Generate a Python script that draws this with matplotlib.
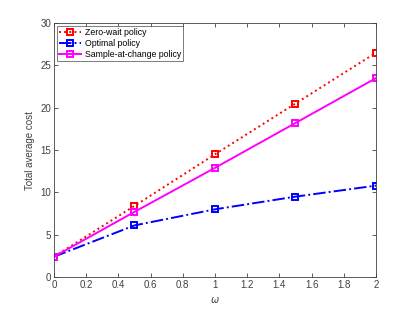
import matplotlib
matplotlib.use("Agg")
import matplotlib.pyplot as plt

plt.rcParams["font.family"] = ["Liberation Sans", "DejaVu Sans"]

# --- dados ---
omega = [0, 0.5, 1, 1.5, 2]
zero_wait = [2.4, 8.4, 14.5, 20.5, 26.5]
optimal = [2.4, 6.1, 8.0, 9.5, 10.8]
sample_change = [2.4, 7.7, 12.9, 18.2, 23.5]

fig = plt.figure(figsize=(4.15, 3.12), dpi=100)
ax = fig.add_axes([0.130, 0.112, 0.776, 0.814])

ax.plot(omega, zero_wait, color="red", linestyle=":", linewidth=1.4,
        marker="s", markersize=5, markerfacecolor="none", markeredgewidth=1.4,
        label="Zero-wait policy")
ax.plot(omega, optimal, color="blue", linestyle="-.", linewidth=1.4,
        marker="s", markersize=5, markerfacecolor="none", markeredgewidth=1.4,
        label="Optimal policy")
ax.plot(omega, sample_change, color="magenta", linestyle="-", linewidth=1.4,
        marker="s", markersize=5, markerfacecolor="none", markeredgewidth=1.4,
        label="Sample-at-change policy")

ax.set_xlim(0, 2)
ax.set_ylim(0, 30)
ax.set_xticks([0, 0.2, 0.4, 0.6, 0.8, 1, 1.2, 1.4, 1.6, 1.8, 2])
ax.set_xticklabels(["0", "0.2", "0.4", "0.6", "0.8", "1", "1.2", "1.4", "1.6", "1.8", "2"])
ax.set_yticks([0, 5, 10, 15, 20, 25, 30])

ax.tick_params(direction="in", length=3, width=0.6, labelsize=7,
               top=True, right=True, colors="#404040", pad=2)
for s in ax.spines.values():
    s.set_color("#404040")
    s.set_linewidth(0.6)

ax.set_xlabel(r"$\omega$", fontsize=7, color="#404040")
ax.set_ylabel("Total average cost", fontsize=7, color="#404040")

leg = ax.legend(loc="upper left", fontsize=6.3, frameon=True, fancybox=False,
                edgecolor="#404040", handlelength=2.5, handletextpad=0.4,
                borderpad=0.3, labelspacing=0.2, borderaxespad=0.3)
leg.get_frame().set_linewidth(0.6)

fig.savefig("out.png", dpi=100)
